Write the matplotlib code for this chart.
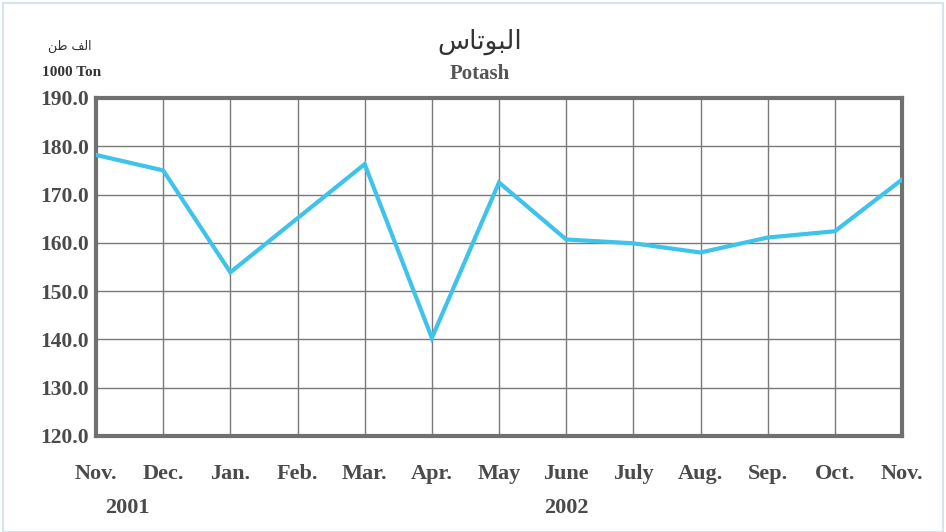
import matplotlib.pyplot as plt
from matplotlib.patches import Rectangle
from matplotlib.transforms import blended_transform_factory

months = ['Nov.', 'Dec.', 'Jan.', 'Feb.', 'Mar.', 'Apr.', 'May', 'June',
          'July', 'Aug.', 'Sep.', 'Oct.', 'Nov.']
potash = [178.2, 175.0, 153.9, 165.1, 176.3, 140.3, 172.5, 160.7,
          159.9, 158.0, 161.1, 162.4, 173.1]
years = ['2001', '2002']
year_pos = [0.46, 7.0]
y_ticks = [120, 130, 140, 150, 160, 170, 180, 190]

# arabic text pre-shaped (presentation forms, visual order) since matplotlib has no bidi
title_ar = '\ufeb1\ufe8e\ufe97\ufeee\ufe92\ufedf\ufe8d'
unit_ar = '\ufee6\ufec3 \ufed2\ufedf\ufe8d'

plt.rcParams['font.family'] = ['Liberation Serif', 'DejaVu Sans']
txt = '#4a4a4a'

fig = plt.figure(figsize=(9.46, 5.32), dpi=100)
ax = fig.add_axes([0.1015, 0.1805, 0.852, 0.6353])

x = list(range(len(months)))
ax.plot(x, potash, color='#3ec3ea', lw=3, solid_joinstyle='miter', zorder=3)

ax.set_xlim(0, len(months) - 1)
ax.set_ylim(120, 190)
ax.set_yticks(y_ticks)
ax.set_yticklabels([f'{v:.1f}' for v in y_ticks], fontsize=15.5, fontweight='bold',
                   color=txt)
ax.set_xticks(x)
ax.set_xticklabels(months, fontsize=16, fontweight='bold', color=txt)
ax.tick_params(axis='both', length=0)
ax.tick_params(axis='x', pad=20)
ax.tick_params(axis='y', pad=5)
ax.grid(True, color='#7a7a7a', lw=1)
ax.set_axisbelow(True)
for s in ax.spines.values():
    s.set_color('#707070')
    s.set_linewidth(3)

tr = blended_transform_factory(ax.transData, ax.transAxes)
for yr, p in zip(years, year_pos):
    ax.text(p, -0.212, yr, transform=tr, ha='center', va='center',
            fontsize=16, fontweight='bold', color=txt)

fig.text(0.507, 0.922, title_ar, ha='center', va='center', fontsize=19,
         family='DejaVu Sans', color='#333333')
fig.text(0.507, 0.861, 'Potash', ha='center', va='center', fontsize=15,
         fontweight='bold', color='#555555')
fig.text(0.074, 0.912, unit_ar, ha='center', va='center', fontsize=9,
         family='DejaVu Sans', color='#333333')
fig.text(0.076, 0.863, '1000 Ton', ha='center', va='center', fontsize=11,
         fontweight='bold', color='#333333')

# faint frame around the page
fig.patches.append(Rectangle((0.003, 0.0), 0.994, 0.994, transform=fig.transFigure,
                             fill=False, ec='#d3e6ee', lw=1.5))

fig.savefig('out.png', dpi=100)
